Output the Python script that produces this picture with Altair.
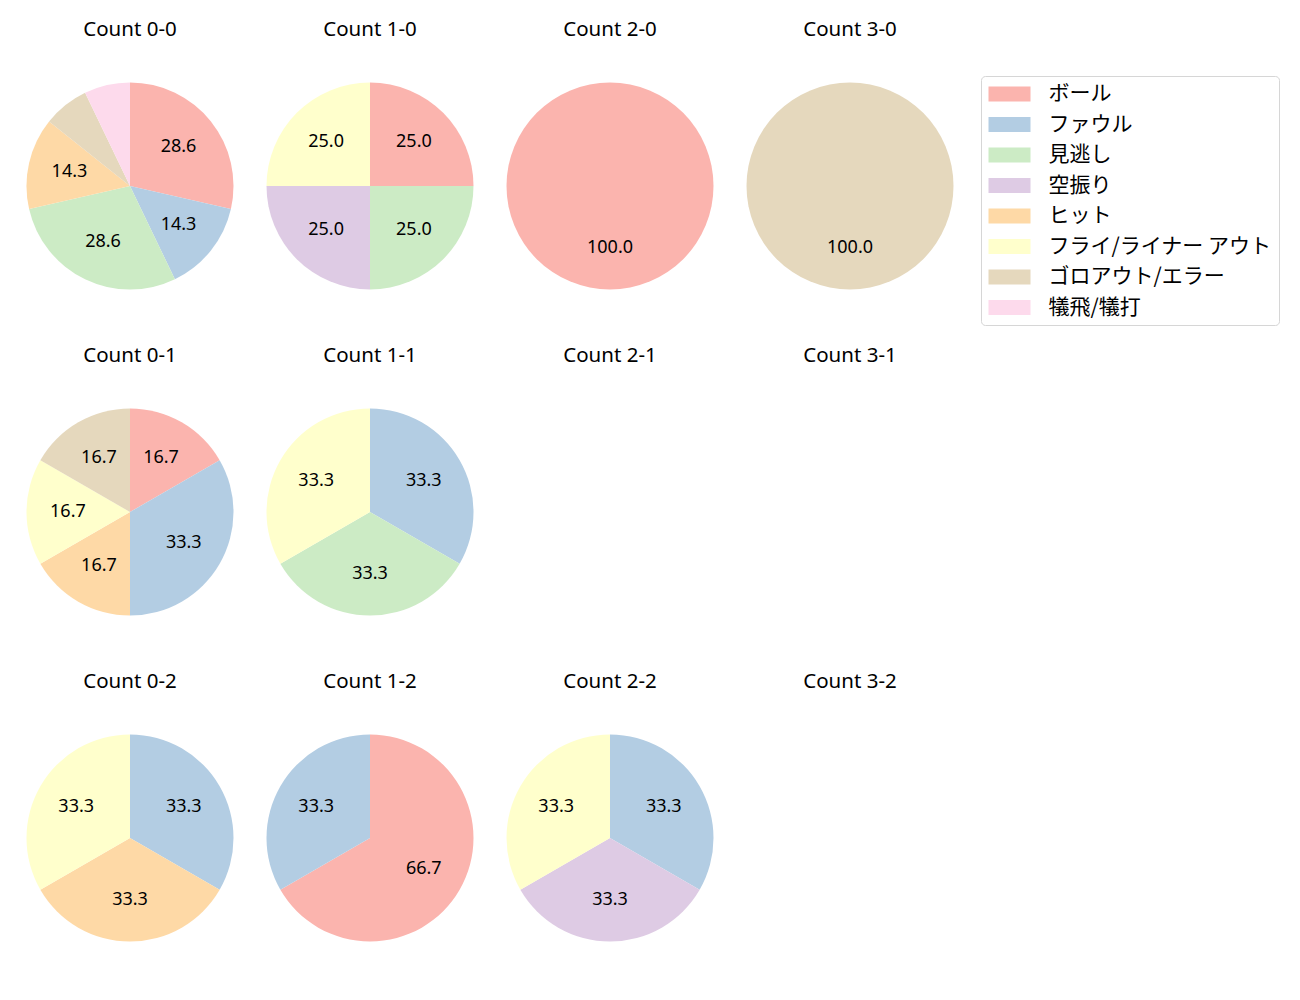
import altair as alt
import pandas as pd

categories = ["ボール", "ファウル", "見逃し", "空振り", "ヒット",
              "フライ/ライナー アウト", "ゴロアウト/エラー", "犠飛/犠打"]
colors = ["#fbb4ae", "#b3cde3", "#ccebc5", "#decbe4", "#fed9a6",
          "#ffffcc", "#e5d8bd", "#fddaec"]

panels = ["0-0", "1-0", "2-0", "3-0",
          "0-1", "1-1", "2-1", "3-1",
          "0-2", "1-2", "2-2", "3-2"]

counts_00 = [4, 2, 4, 0, 2, 0, 1, 1]
counts_10 = [1, 0, 1, 1, 0, 1, 0, 0]
counts_20 = [1, 0, 0, 0, 0, 0, 0, 0]
counts_30 = [0, 0, 0, 0, 0, 0, 1, 0]
counts_01 = [1, 2, 0, 0, 1, 1, 1, 0]
counts_11 = [0, 1, 1, 0, 0, 1, 0, 0]
counts_21 = [0, 0, 0, 0, 0, 0, 0, 0]
counts_31 = [0, 0, 0, 0, 0, 0, 0, 0]
counts_02 = [0, 1, 0, 0, 1, 1, 0, 0]
counts_12 = [2, 1, 0, 0, 0, 0, 0, 0]
counts_22 = [0, 1, 0, 1, 0, 1, 0, 0]
counts_32 = [0, 0, 0, 0, 0, 0, 0, 0]

all_counts = [counts_00, counts_10, counts_20, counts_30,
              counts_01, counts_11, counts_21, counts_31,
              counts_02, counts_12, counts_22, counts_32]

rows = []
for p, cs in zip(panels, all_counts):
    for i, (c, n) in enumerate(zip(categories, cs)):
        rows.append({"count": p, "cat": c, "idx": i, "n": n})
df = pd.DataFrame(rows)

FONT = "Noto Sans, Noto Sans CJK JP"
JFONT = "Noto Sans CJK JP"
R = 103.5

color_enc = alt.Color(
    "cat:N",
    scale=alt.Scale(domain=categories, range=colors),
    legend=alt.Legend(
        title=None,
        orient="none",
        legendX=971,
        legendY=10,
        symbolType="M-1,-0.72H3V0.72H-1Z",
        symbolSize=441,
        symbolStrokeWidth=0,
        labelFont=JFONT,
        labelFontSize=21,
        labelColor="black",
        labelOffset=39,
        labelLimit=400,
        rowPadding=8.5,
        padding=7.5,
        strokeColor="#d6d6d6",
        cornerRadius=4,
        fillColor="white",
    ),
)


def panel(p):
    base = (
        alt.Chart(df)
        .transform_filter(alt.datum["count"] == p)
        .transform_filter(alt.datum.n > 0)
        .transform_joinaggregate(total="sum(n)")
        .transform_calculate(pct="100 * datum.n / datum.total",
                             label="format(100 * datum.n / datum.total, '.1f')")
    )
    arc = base.mark_arc(radius=R).encode(
        theta=alt.Theta("n:Q", stack=True),
        color=color_enc,
        order=alt.Order("idx:Q", sort="ascending"),
    )
    txt = base.transform_filter(alt.datum.pct >= 10).mark_text(
        radius=R * 0.6, font=FONT, fontSize=18, color="black"
    ).encode(
        theta=alt.Theta("n:Q", stack=True),
        text="label:N",
        order=alt.Order("idx:Q", sort="ascending"),
    )
    return alt.layer(arc, txt).properties(
        width=240, height=240,
        title=alt.TitleParams(f"Count {p}", font=FONT, fontSize=20.5,
                              fontWeight="normal", color="black", offset=26),
    )


grid = alt.vconcat(
    *[alt.hconcat(*[panel(p) for p in panels[r * 4:(r + 1) * 4]], spacing=0)
      for r in range(3)],
    spacing=39,
).properties(
    padding={"left": 2, "top": 11, "right": 5, "bottom": 5}
).configure_view(stroke=None)

chart = grid
chart.save("out.html", embed_options={"renderer": "svg", "actions": False})
